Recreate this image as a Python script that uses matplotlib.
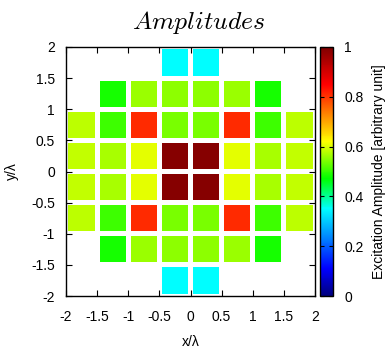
import numpy as np
import matplotlib
matplotlib.use("Agg")
import matplotlib.pyplot as plt
from matplotlib.colors import LinearSegmentedColormap, Normalize
from matplotlib.patches import Rectangle
from matplotlib.cm import ScalarMappable

plt.rcParams['font.family'] = ['Liberation Sans', 'DejaVu Sans']
plt.rcParams['mathtext.fontset'] = 'cm'

# element positions (in wavelengths)
x_pos = [-1.75, -1.25, -0.75, -0.25, 0.25, 0.75, 1.25, 1.75]
y_pos = [1.75, 1.25, 0.75, 0.25, -0.25, -0.75, -1.25, -1.75]

# excitation amplitudes (nan = no element)
row_1_75 = [np.nan, np.nan, np.nan, 0.35, 0.35, np.nan, np.nan, np.nan]
row_1_25 = [np.nan, 0.482, 0.56, 0.552, 0.552, 0.56, 0.482, np.nan]
row_0_75 = [0.58, 0.505, 0.81, 0.54, 0.54, 0.81, 0.505, 0.58]
row_0_25 = [0.583, 0.567, 0.603, 0.99, 0.99, 0.603, 0.567, 0.583]
amplitudes = [row_1_75, row_1_25, row_0_75, row_0_25,
              row_0_25, row_0_75, row_1_25, row_1_75]

tick_vals = [-2, -1.5, -1, -0.5, 0, 0.5, 1, 1.5, 2]
tick_labels = ['-2', '-1.5', '-1', '-0.5', '0', '0.5', '1', '1.5', '2']
cbar_ticks = [0, 0.2, 0.4, 0.6, 0.8, 1]
cbar_labels = ['0', '0.2', '0.4', '0.6', '0.8', '1']

cmap = LinearSegmentedColormap.from_list('jetlike', [
    (0.0, (0, 0, 0.5)),
    (0.11, (0, 0, 1)),
    (0.35, (0, 1, 1)),
    (0.47, (0, 1, 0)),
    (0.62, (1, 1, 0)),
    (0.85, (1, 0, 0)),
    (1.0, (0.5, 0, 0)),
])
norm = Normalize(0, 1)

fig = plt.figure(figsize=(3.9, 3.49), dpi=100)
ax = fig.add_axes([66/390, 53/349, 249/390, 249/349])
cax = fig.add_axes([320/390, 53/349, 13/390, 249/349])

size = 0.42
for j, yv in enumerate(y_pos):
    for i, xv in enumerate(x_pos):
        v = amplitudes[j][i]
        if np.isnan(v):
            continue
        ax.add_patch(Rectangle((xv - size/2, yv - size/2), size, size,
                               facecolor=cmap(norm(v)), edgecolor='none'))

ax.set_xlim(-2, 2)
ax.set_ylim(-2, 2)
ax.set_xticks(tick_vals)
ax.set_xticklabels(tick_labels)
ax.set_yticks(tick_vals)
ax.set_yticklabels(tick_labels)
ax.tick_params(direction='in', top=True, right=True, length=4, width=0.8,
               labelsize=10)
ax.tick_params(axis='x', pad=10)
ax.tick_params(axis='y', pad=8)
for s in ax.spines.values():
    s.set_linewidth(1.0)
ax.set_xlabel('x/λ', fontsize=10, labelpad=8)
ax.set_ylabel('y/λ', fontsize=10, labelpad=9)

sm = ScalarMappable(norm=norm, cmap=cmap)
cb = fig.colorbar(sm, cax=cax)
cb.set_ticks(cbar_ticks)
cb.set_ticklabels(cbar_labels)
cax.tick_params(direction='in', left=True, right=True, length=3, width=0.8,
                labelsize=10, pad=8)
cb.outline.set_linewidth(1.0)
cb.set_label('Excitation Amplitude [arbitrary unit]', fontsize=10, labelpad=6)

fig.text(0.51, 0.935, r'$Amplitudes$', fontsize=18.5, ha='center', va='center')

fig.savefig('out.png', dpi=100)
